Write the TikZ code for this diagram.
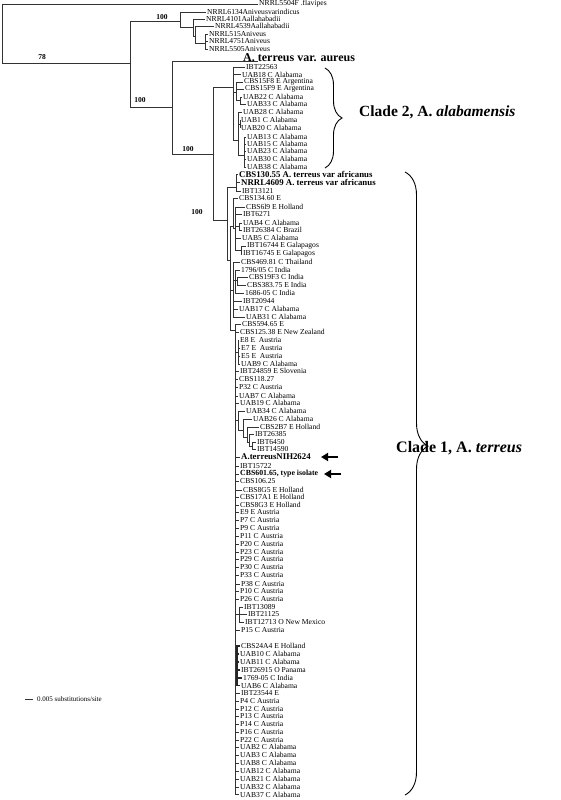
\documentclass[tikz,border=0pt]{standalone}
\usepackage{fontspec}
\setmainfont{Liberation Serif}
\usetikzlibrary{decorations.pathreplacing,arrows.meta}
\begin{document}
\begin{tikzpicture}[x=1pt,y=-1pt,
  br/.style={line width=0.75pt, draw=black!80},
  thk/.style={line width=1.6pt, draw=black!85},
  lf/.style={anchor=west, inner xsep=1pt, inner ysep=0pt, font=\fontsize{7.6}{8}\selectfont},
  bl/.style={anchor=west, inner xsep=1pt, inner ysep=0pt, font=\fontsize{8.8}{9}\selectfont\bfseries},
  bs/.style={inner sep=0pt, font=\fontsize{7.5}{8}\selectfont\bfseries},
  cl/.style={anchor=west, inner sep=0pt, font=\fontsize{16}{16}\selectfont\bfseries},
  brc/.style={decorate, decoration={brace, amplitude=#1, aspect=0.5}, line width=0.9pt},
  brc/.default=17,
  arw/.style={line width=2.4pt, -{Triangle[length=7pt,width=8pt]}}
]
\useasboundingbox (0,0) rectangle (560,800);

% internal nodes
\coordinate (root) at (2,34);
\coordinate (n1) at (130,63);
\coordinate (nA) at (180,21);
\coordinate (nA2) at (193,27);
\coordinate (nA3) at (195,36);
\coordinate (nA4) at (205,43);
\coordinate (nB) at (172,107);
\coordinate (nC) at (213,154);
\coordinate (nD) at (233,87);
\coordinate (nD2) at (236,92);
\coordinate (nD2b) at (240,100);
\coordinate (nD3) at (238,140);
\coordinate (nD4) at (240,124);
\coordinate (nD5) at (244,155);
\coordinate (nE) at (227,220);
\coordinate (nF) at (236,187);
\coordinate (nG) at (230,260);
\coordinate (nH) at (233,226);
\coordinate (nH1) at (235,228);
\coordinate (nH2) at (239,226);
\coordinate (nH3) at (241,250);
\coordinate (nJ) at (233,290);
\coordinate (nJ1) at (235,280);
\coordinate (nJ2) at (237,280);
\coordinate (nK) at (235,330);
\coordinate (nL) at (238,352);
\coordinate (nM) at (238,420);
\coordinate (nM1) at (243,430);
\coordinate (nM2) at (247,437);
\coordinate (nM3) at (249,442);
\coordinate (nM4) at (252,446);
\coordinate (nN) at (239,614);
\coordinate (nP) at (237,668);
\coordinate (aureusTip) at (258,61.5);

% internal branches
\draw[br] (root) |- (n1);
\draw[br] (n1) |- (nA);
\draw[br] (n1) |- (nB);
\draw[br] (nA) |- (nA2);
\draw[br] (nA2) |- (nA3);
\draw[br] (nA3) |- (nA4);
\draw[br] (nB) |- (aureusTip);
\draw[br] (nB) |- (nC);
\draw[br] (nC) |- (nD);
\draw[br] (nC) |- (nE);
\draw[br] (nD) |- (nD2);
\draw[br] (nD2) |- (nD2b);
\draw[br] (nD) |- (nD3);
\draw[br] (nD3) |- (nD4);
\draw[br] (nD3) |- (nD5);
\draw[br] (nE) |- (nF);
\draw[br] (nE) |- (nG);
\draw[br] (nG) |- (nH);
\draw[br] (nH) |- (nH1);
\draw[br] (nH1) |- (nH2);
\draw[br] (nH1) |- (nH3);
\draw[br] (nG) |- (nJ);
\draw[br] (nJ) |- (nJ1);
\draw[br] (nJ1) |- (nJ2);
\draw[br] (nG) |- (nK);
\draw[br] (nK) |- (nL);
\draw[br] (nK) |- (nM);
\draw[br] (nM) |- (nM1);
\draw[br] (nM1) |- (nM2);
\draw[br] (nM2) |- (nM3);
\draw[br] (nM3) |- (nM4);
\draw[br] (nK) |- (nN);
\draw[br] (nK) |- (nP);

% leaves
\foreach \p/\n/\x/\y/\t in {
 root/fla/258/4/{NRRL5504F .flavipes},
 nA/ni/206/12/{NRRL6134Aniveusvarindicus},
 nA2/a41/205/19/{NRRL4101Aallahabadii},
 nA3/a45/214/26/{NRRL4539Aallahabadii},
 nA4/n515/208/34/{NRRL515Aniveus},
 nA4/n4751/208/41.5/{NRRL4751Aniveus},
 nA4/n5505/208/49/{NRRL5505Aniveus},
 nD/c1/245/67.5/{IBT22563},
 nD/c2/241/74.5/{UAB18 C Alabama},
 nD2/c3/243/82/{CBS15F8 E Argentina},
 nD2/c4/244/89/{CBS15F9 E Argentina},
 nD2b/c5/242/97/{UAB22 C Alabama},
 nD2b/c6/246/104/{UAB33 C Alabama},
 nD3/c7/242/112/{UAB28 C Alabama},
 nD4/c8/240/120/{UAB1 C Alabama},
 nD4/c9/240/128/{UAB20 C Alabama},
 nD5/c10/246/137/{UAB13 C Alabama},
 nD5/c11/246/144/{UAB15 C Alabama},
 nD5/c12/246/151/{UAB23 C Alabama},
 nD5/c13/246/159/{UAB30 C Alabama},
 nD5/c14/246/167/{UAB38 C Alabama},
 nF/d3/241/191/{IBT13121},
 nH/d4/238/198/{CBS134.60 E},
 nH1/d5/245/207/{CBS6l9 E Holland},
 nH1/d6/242/214/{IBT6271},
 nH2/d7/242/223/{UAB4 C Alabama},
 nH2/d8/242/230/{IBT26384 C Brazil},
 nH1/d9/241/238/{UAB5 C Alabama},
 nH3/d10/246/246/{IBT16744 E Galapagos},
 nH3/d11/242/254/{IBT16745 E Galapagos},
 nJ/d12/240/262/{CBS469.81 C Thailand},
 nJ1/d13/240/270/{1796/05 C India},
 nJ2/d14/248/277/{CBS19F3 C India},
 nJ2/d15/246/285/{CBS383.75 E India},
 nJ1/d16/244/293/{1686-05 C India},
 nJ/d17/242/301/{IBT20944},
 nJ/d18/238/309/{UAB17 C Alabama},
 nJ/d19/245/317/{UAB31 C Alabama},
 nK/s1/241/324/{CBS594.65 E},
 nK/s2/239/332/{CBS125.38 E New Zealand},
 nL/s3/239/340/{E8 E~ Austria},
 nL/s4/240/348/{E7 E~ Austria},
 nL/s5/240/356/{E5 E~ Austria},
 nL/s6/240/364/{UAB9 C Alabama},
 nK/s7/239/371/{IBT24859 E Slovenia},
 nK/s8/238/379/{CBS118.27},
 nK/s9/238/387/{P32 C Austria},
 nK/s10/238/396/{UAB7 C Alabama},
 nK/s11/239/403/{UAB19 C Alabama},
 nM/s12/245/411/{UAB34 C Alabama},
 nM1/s13/252/419/{UAB26 C Alabama},
 nM2/s14/259/427/{CBS2B7 E Holland},
 nM3/s15/254/434/{IBT26385},
 nM4/s16/256/442/{IBT6450},
 nM4/s17/256/449/{IBT14590},
 nK/s18/239/466/{IBT15722},
 nK/s19/239/481/{CBS106.25},
 nK/s20/242/490/{CBS8G5 E Holland},
 nK/s21/239/497/{CBS17A1 E Holland},
 nK/s22/239/505/{CBS8G3 E Holland},
 nK/s23/239/512/{E9 E Austria},
 nK/s24/239/520/{P7 C Austria},
 nK/s25/239/528/{P9 C Austria},
 nK/s26/239/536/{P11 C Austria},
 nK/s27/239/544/{P20 C Austria},
 nK/s28/239/552/{P23 C Austria},
 nK/s29/239/559/{P29 C Austria},
 nK/s30/239/567/{P30 C Austria},
 nK/s31/239/575/{P33 C Austria},
 nK/s32/240/584/{P38 C Austria},
 nK/s33/239/591/{P10 C Austria},
 nK/s34/239/599/{P26 C Austria},
 nN/s35/243/607/{IBT13089},
 nN/s36/247/614/{IBT21125},
 nN/s37/244/622/{IBT12713 O New Mexico},
 nK/s38/240/630/{P15 C Austria},
 nK/s45/240/693/{IBT23544 E},
 nK/s46/239/701/{P4 C Austria},
 nK/s47/239/709/{P12 C Austria},
 nK/s48/239/716/{P13 C Austria},
 nK/s49/239/724/{P14 C Austria},
 nK/s50/239/732/{P16 C Austria},
 nK/s51/239/740/{P22 C Austria},
 nK/s52/239/747/{UAB2 C Alabama},
 nK/s53/239/755/{UAB3 C Alabama},
 nK/s54/239/763/{UAB8 C Alabama},
 nK/s55/239/771/{UAB12 C Alabama},
 nK/s56/239/779/{UAB21 C Alabama},
 nK/s57/239/787/{UAB32 C Alabama},
 nK/s58/239/794.5/{UAB37 C Alabama}}
{\node[lf] (\n) at (\x,\y) {\t}; \draw[br] (\p) |- (\n.west);}

% thick zero-length cluster
\foreach \n/\x/\y/\t in {
 s39/240/646/{CBS24A4 E Holland},
 s40/239/654/{UAB10 C Alabama},
 s41/239/662/{UAB11 C Alabama},
 s42/240/670/{IBT26915 O Panama},
 s43/242/678/{1769-05 C India},
 s44/240/685.5/{UAB6 C Alabama}}
{\node[lf] (\n) at (\x,\y) {\t}; \draw[thk] (nP) |- (\n.west);}

% bold leaves
\node[bl] (d1) at (238,174.5) {CBS130.55 A. terreus var africanus};
\node[bl] (d2) at (240,182.5) {NRRL4609 A. terreus var africanus};
\draw[br] (nF) |- (d1.west);
\draw[br] (nF) |- (d2.west);
\node[bl] (nih) at (240,457) {A.terreusNIH2624};
\node[bl, font=\fontsize{7.8}{8}\selectfont\bfseries] (cbs601) at (239,474) {CBS601.65, type isolate};
\draw[br] (nK) |- (nih.west);
\draw[br] (nK) |- (cbs601.west);
\node[anchor=west, inner sep=0pt, font=\fontsize{12}{13}\selectfont\bfseries] (aur) at (243,57.5) {A. terreus var. aureus};

% bootstrap values
\node[bs] (b78) at (42,57) {78};
\node[bs] (b1) at (162,17) {100};
\node[bs] (b2) at (140,100) {100};
\node[bs] (b3) at (188,149) {100};
\node[bs] (b4) at (197,212) {100};

% arrows
\coordinate (arA1) at (338,457);
\coordinate (arA2) at (321,457);
\coordinate (arB1) at (341,474);
\coordinate (arB2) at (324,474);
\draw[arw] (arA1) -- (arA2);
\draw[arw] (arB1) -- (arB2);

% braces and clade labels
\coordinate (bt2) at (325,68);
\coordinate (bb2) at (325,168);
\draw[brc=17] (bt2) -- (bb2);
\coordinate (bt1) at (405,172);
\coordinate (bb1) at (405,795);
\draw[decorate, decoration={brace, amplitude=23, aspect=0.44}, line width=0.9pt] (bt1) -- (bb1);
\node[cl, font=\fontsize{15.5}{16}\selectfont\bfseries] (cl2) at (359,112) {Clade 2, A. \textit{alabamensis}};
\node[cl] (cl1) at (396,448) {Clade 1, A. \textit{terreus}};

% scale bar
\coordinate (sb1) at (25,699);
\coordinate (sb2) at (33,699);
\draw[br] (sb1) -- (sb2);
\node[anchor=west, inner sep=0pt, font=\fontsize{7}{8}\selectfont] (sbt) at (37,699) {0.005 substitutions/site};
\end{tikzpicture}
\end{document}
